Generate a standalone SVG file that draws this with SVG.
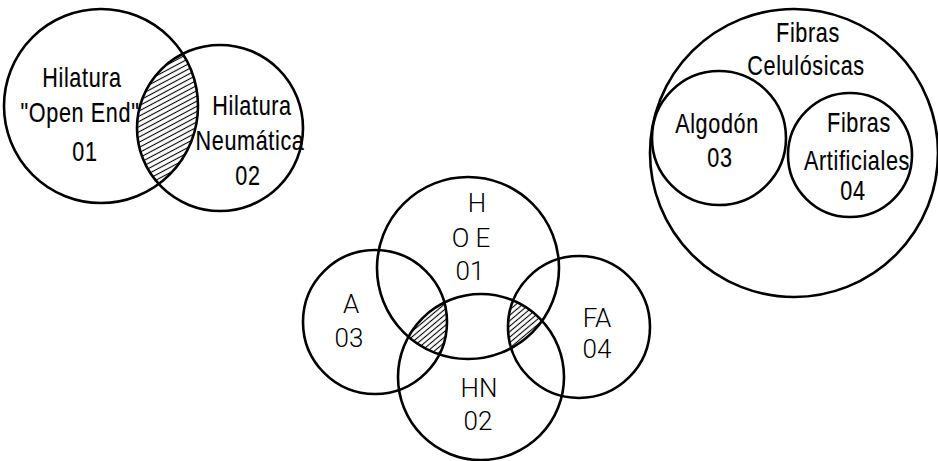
<svg xmlns="http://www.w3.org/2000/svg" width="938" height="461" viewBox="0 0 938 461">
<style>
.c{fill:none;stroke:#000;stroke-width:2.6}
.t{font-family:"Liberation Sans",Arial,sans-serif;font-size:27px;letter-spacing:0.8px;fill:#000;stroke:#000;stroke-width:0.15;text-anchor:middle}
.u{font-family:Roboto,"Liberation Sans",sans-serif;font-weight:300;font-size:26px;fill:#000;text-anchor:middle}
</style>
<defs>
<pattern id="h1" patternUnits="userSpaceOnUse" width="10" height="4.6" patternTransform="rotate(-28)"><line x1="0" y1="2.3" x2="10" y2="2.3" stroke="#000" stroke-width="1.1"/></pattern>
<pattern id="h2" patternUnits="userSpaceOnUse" width="10" height="4.2" patternTransform="rotate(-40)"><line x1="0" y1="2.1" x2="10" y2="2.1" stroke="#000" stroke-width="1.1"/></pattern>
<clipPath id="cL"><circle cx="101" cy="106" r="97"/></clipPath>
<clipPath id="cH"><circle cx="468" cy="268" r="91"/></clipPath>
<clipPath id="cA"><circle cx="375" cy="322" r="72"/></clipPath>
<clipPath id="cFA"><circle cx="579" cy="327" r="71"/></clipPath>
</defs>
<g id="hatches">
<circle cx="220" cy="128" r="83" fill="url(#h1)" clip-path="url(#cL)"/>
<g clip-path="url(#cA)"><g clip-path="url(#cH)"><circle cx="481" cy="377" r="83" fill="url(#h2)"/></g></g>
<g clip-path="url(#cFA)"><g clip-path="url(#cH)"><circle cx="481" cy="377" r="83" fill="url(#h2)"/></g></g>
</g>
<g id="n-oe">
<circle class="c" cx="101" cy="106" r="97"/>
<text class="t" transform="translate(82,87) scale(0.8,1)">Hilatura</text>
<text class="t" transform="translate(80,122) scale(0.8,1)">"Open End"</text>
<text class="t" transform="translate(85,161) scale(0.8,1)">01</text>
</g>
<g id="n-neu">
<circle class="c" cx="220" cy="128" r="83"/>
<text class="t" transform="translate(252,115) scale(0.8,1)">Hilatura</text>
<text class="t" transform="translate(250,150) scale(0.8,1)">Neumática</text>
<text class="t" transform="translate(248,185) scale(0.8,1)">02</text>
</g>
<g id="n-cel">
<circle class="c" cx="794" cy="153" r="144"/>
<text class="t" transform="translate(808,42) scale(0.8,1)">Fibras</text>
<text class="t" transform="translate(806,75) scale(0.8,1)">Celulósicas</text>
</g>
<g id="n-alg">
<circle class="c" cx="719" cy="138" r="67"/>
<text class="t" transform="translate(717,133) scale(0.8,1)">Algodón</text>
<text class="t" transform="translate(720,167) scale(0.8,1)">03</text>
</g>
<g id="n-fa">
<circle class="c" cx="850" cy="155" r="62"/>
<text class="t" transform="translate(859,132) scale(0.8,1)">Fibras</text>
<text class="t" transform="translate(857,170) scale(0.8,1)">Artificiales</text>
<text class="t" transform="translate(853,200) scale(0.8,1)">04</text>
</g>
<g id="n-h">
<circle class="c" cx="468" cy="268" r="91"/>
<text class="u" x="477" y="212">H</text>
<text class="u" x="471" y="247">O  E</text>
<text class="u" x="470" y="280">01</text>
</g>
<g id="n-a">
<circle class="c" cx="375" cy="322" r="72"/>
<text class="u" x="351" y="313">A</text>
<text class="u" x="349" y="347">03</text>
</g>
<g id="n-hn">
<circle class="c" cx="481" cy="377" r="83"/>
<text class="u" x="479" y="397">HN</text>
<text class="u" x="478" y="430">02</text>
</g>
<g id="n-fa2">
<circle class="c" cx="579" cy="327" r="71"/>
<text class="u" x="597" y="327">FA</text>
<text class="u" x="597" y="358">04</text>
</g>
<g id="connectors"/>
</svg>
